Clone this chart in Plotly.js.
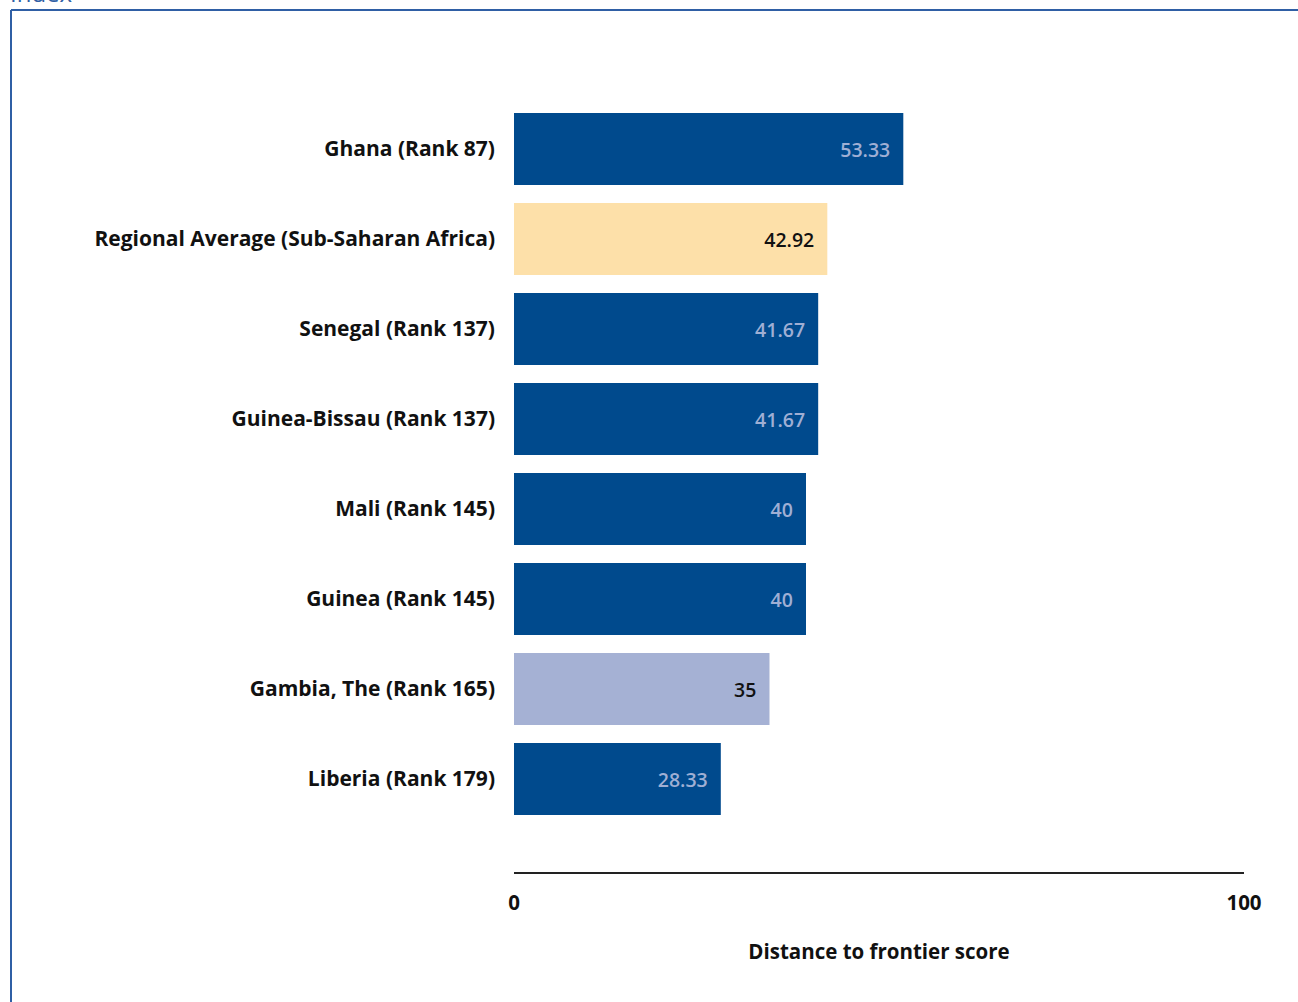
<!DOCTYPE html>
<html>
<head>
<meta charset="utf-8">
<script src="https://cdn.plot.ly/plotly-3.0.1.min.js"></script>
<style>
  html, body { margin: 0; padding: 0; background: #fff; }
  #chart { width: 1298px; height: 1002px; }
</style>
</head>
<body>
<div id="chart"></div>
<script>
const economies = [
  'Ghana (Rank 87)',
  'Regional Average (Sub-Saharan Africa)',
  'Senegal (Rank 137)',
  'Guinea-Bissau (Rank 137)',
  'Mali (Rank 145)',
  'Guinea (Rank 145)',
  'Gambia, The (Rank 165)',
  'Liberia (Rank 179)'
];
const scores = [53.33, 42.92, 41.67, 41.67, 40, 40, 35, 28.33];
const barColors = ['#004a8d', '#fde0a9', '#004a8d', '#004a8d', '#004a8d', '#004a8d', '#a5b1d4', '#004a8d'];
const labelColors = ['#9fafd4', '#111111', '#9fafd4', '#9fafd4', '#9fafd4', '#9fafd4', '#111111', '#9fafd4'];
const xTicks = [0, 100];

const font = 'Open Sans, Noto Sans, sans-serif';

// plot area: x 514..1244, y 104..872 (pixel)
const W = 1298, H = 1002, L = 514, R = 54, T = 104, B = 130;
const pw = W - L - R, ph = H - T - B;
const px = v => (v - L) / pw;
const py = v => (H - B - v) / ph;

const trace = {
  type: 'bar',
  orientation: 'h',
  y: economies,
  x: scores,
  marker: { color: barColors, line: { width: 0 } },
  // a little extra room at the bar end, like the original
  text: scores.map(s => s + '\u00a0\u00a0'),
  textposition: 'inside',
  insidetextanchor: 'end',
  textangle: 0,
  textfont: { family: font, size: 19.5, weight: 600, color: labelColors },
  cliponaxis: false,
  hoverinfo: 'skip'
};

const layout = {
  width: W,
  height: H,
  margin: { l: L, r: R, t: T, b: B, pad: 0 },
  paper_bgcolor: '#ffffff',
  plot_bgcolor: '#ffffff',
  showlegend: false,
  bargap: 0.2,
  font: { family: font, color: '#111111' },
  xaxis: {
    range: [0, 100],
    tickvals: xTicks,
    ticktext: xTicks.map(t => '<b>' + t + '</b>'),
    showgrid: false,
    zeroline: false,
    showline: true,
    linecolor: '#222222',
    linewidth: 2,
    ticks: '',
    ticklabelstandoff: 11,
    tickfont: { family: font, size: 20.5, color: '#111111' },
    title: {
      text: '<b>Distance to frontier score</b>',
      font: { family: font, size: 20.5, color: '#111111' },
      standoff: 30
    },
    fixedrange: true
  },
  yaxis: {
    type: 'category',
    range: [7 + 93 / 90, -0.5],
    showgrid: false,
    zeroline: false,
    showline: false,
    ticks: '',
    ticklabelstandoff: 18,
    tickvals: economies,
    ticktext: economies.map(e => '<b>' + e + '</b>'),
    tickfont: { family: font, size: 21, color: '#111111' },
    fixedrange: true
  },
  shapes: [
    {
      type: 'line', xref: 'paper', yref: 'paper',
      x0: px(11), x1: px(1310), y0: py(10), y1: py(10),
      line: { color: '#2f5fa5', width: 2 }
    },
    {
      type: 'line', xref: 'paper', yref: 'paper',
      x0: px(11), x1: px(11), y0: py(10), y1: py(1010),
      line: { color: '#2f5fa5', width: 2 }
    }
  ],
  annotations: [
    {
      xref: 'paper', yref: 'paper',
      x: px(8), y: py(11),
      xanchor: 'left', yanchor: 'bottom',
      text: 'Index',
      showarrow: false,
      font: { family: font, size: 24, color: '#2f5fa5' }
    }
  ]
};

Plotly.newPlot('chart', [trace], layout, { displayModeBar: false, staticPlot: true });
</script>
</body>
</html>
